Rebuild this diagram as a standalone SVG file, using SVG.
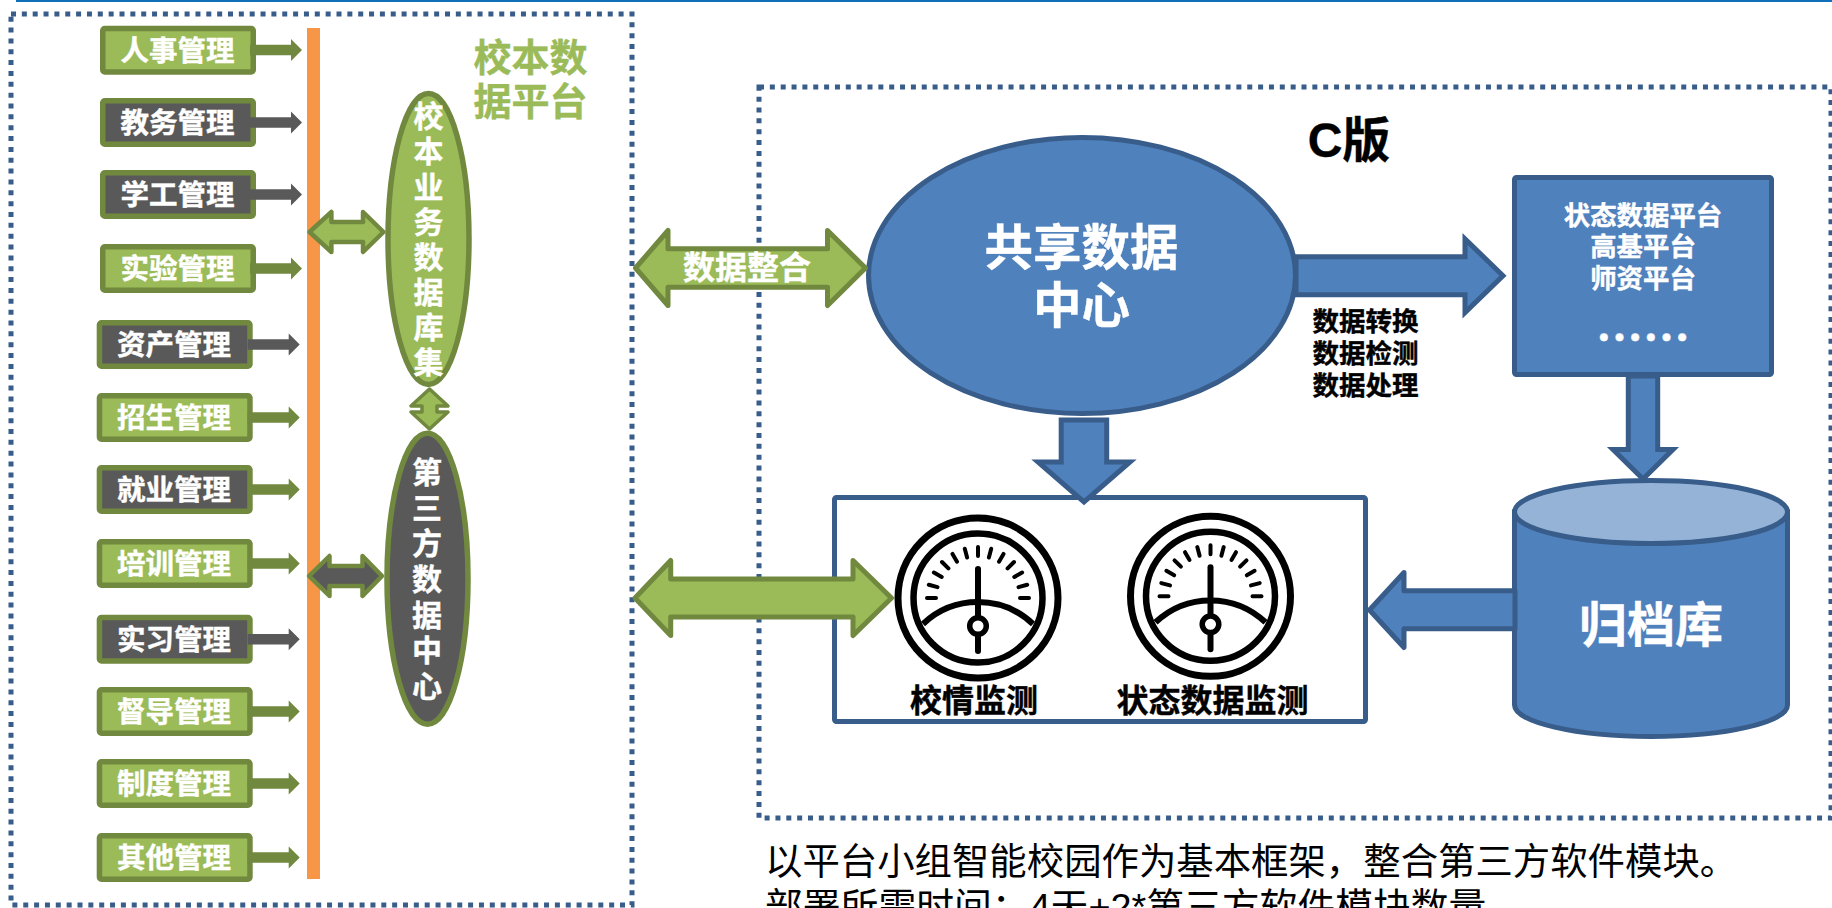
<svg xmlns="http://www.w3.org/2000/svg" xmlns:xlink="http://www.w3.org/1999/xlink" width="1832" height="908" viewBox="0 0 1832 908">
<style>
text{font-family:"Liberation Sans","Noto Sans CJK SC",sans-serif;font-weight:700;text-anchor:middle}
.w{fill:#fff;stroke:#fff;stroke-width:.4}.k{fill:#000;stroke:#000;stroke-width:.4}
.dash{fill:none;stroke:#385d8a;stroke-width:5;stroke-dasharray:5 5.85}
.g{fill:#9bbb59;stroke:#71893f;stroke-width:5.5}
.d{fill:#595959;stroke:#71893f;stroke-width:5.5}
.gs{fill:#71893f}.ds{fill:#595959}
.b{fill:#4f81bd;stroke:#385d8a;stroke-width:5}
.ga{stroke-linejoin:round;stroke-width:5;stroke:#71893f}
.m{font-size:28.500px}.v{font-size:30px}
.r{font-size:26.400px}.l{font-size:26.500px}
.t{font-size:37.400px;font-weight:400;text-anchor:start;fill:#000}
.dots{font-family:"Noto Sans CJK SC",sans-serif;font-size:47px}
</style>
<defs>
<path id="ar" d="M0-5.300H41V-11L52 0 41 11V5.300H0Z"/>
<g id="gauge" fill="none" stroke="#000">
<circle cx="978" cy="598" r="80" stroke-width="7"/>
<circle cx="978" cy="598" r="64.500" stroke-width="6.500"/>
<g stroke-width="4" stroke-linecap="round">
<path d="M927 598h9M928.800 584.800l8.700 2.300M933.900 572.500l7.800 4.500M942 562l6.400 6.400M952.500 553.900l4.500 7.800M964.800 548.800l2.300 8.700M978 547v9M991.200 548.800l-2.300 8.700M1003.500 553.900l-4.500 7.800M1014 562l-6.400 6.400M1022.100 572.500l-7.800 4.500M1027.200 584.800l-8.700 2.300M1029 598h-9"/>
</g>
<path d="M923 624A80 80 0 0 1 1033 624" stroke-width="6"/>
<path d="M978 569V651" stroke-width="6" stroke-linecap="round"/>
<circle cx="978" cy="626" r="8.300" fill="#fff" stroke-width="5.500"/>
</g>
</defs>
<rect x="16" y="0" width="1816" height="2" fill="#0f6fb8"/>
<rect class="dash" x="11" y="14" width="621" height="891"/>
<rect class="dash" x="759" y="87" width="1072" height="731"/>
<rect x="307" y="28" width="13" height="851" fill="#f79646"/>

<g id="n-renshi"><rect class="g" x="102.750" y="28.500" width="150.500" height="43.500" rx="2"/><text class="m w" x="177.500" y="60.500">人事管理</text></g>
<g id="n-jiaowu"><rect class="d" x="102.750" y="100.750" width="150.500" height="43.500" rx="2"/><text class="m w" x="177.500" y="133">教务管理</text></g>
<g id="n-xuegong"><rect class="d" x="102.750" y="172.750" width="150.500" height="43.500" rx="2"/><text class="m w" x="177.500" y="205">学工管理</text></g>
<g id="n-shiyan"><rect class="g" x="102.750" y="246.750" width="150.500" height="43.500" rx="2"/><text class="m w" x="177.500" y="279">实验管理</text></g>
<g id="n-zichan"><rect class="d" x="99.450" y="322.750" width="150.500" height="43.500" rx="2"/><text class="m w" x="174" y="355">资产管理</text></g>
<g id="n-zhaosheng"><rect class="g" x="99.450" y="395.750" width="150.500" height="43.500" rx="2"/><text class="m w" x="174" y="428">招生管理</text></g>
<g id="n-jiuye"><rect class="d" x="99.450" y="467.750" width="150.500" height="43.500" rx="2"/><text class="m w" x="174" y="500">就业管理</text></g>
<g id="n-peixun"><rect class="g" x="99.450" y="541.750" width="150.500" height="43.500" rx="2"/><text class="m w" x="174" y="574">培训管理</text></g>
<g id="n-shixi"><rect class="d" x="99.450" y="617.500" width="150.500" height="43.500" rx="2"/><text class="m w" x="174" y="649.500">实习管理</text></g>
<g id="n-dudao"><rect class="g" x="99.450" y="689.750" width="150.500" height="43.500" rx="2"/><text class="m w" x="174" y="722">督导管理</text></g>
<g id="n-zhidu"><rect class="g" x="99.450" y="761.750" width="150.500" height="43.500" rx="2"/><text class="m w" x="174" y="794">制度管理</text></g>
<g id="n-qita"><rect class="g" x="99.450" y="835.750" width="150.500" height="43.500" rx="2"/><text class="m w" x="174" y="868">其他管理</text></g>

<g id="n-platform-title"><text x="530.500" y="71" font-size="38" fill="#9bbb59" stroke="#9bbb59" stroke-width=".4">校本数</text><text x="530.500" y="115" font-size="38" fill="#9bbb59" stroke="#9bbb59" stroke-width=".4">据平台</text></g>

<g id="n-xiaoben"><ellipse class="g" cx="428.500" cy="239" rx="40.500" ry="145.500"/>
<text class="v w" x="428.500" y="127">校</text><text class="v w" x="428.500" y="162">本</text><text class="v w" x="428.500" y="197.500">业</text><text class="v w" x="428.500" y="232.500">务</text><text class="v w" x="428.500" y="268">数</text><text class="v w" x="428.500" y="303">据</text><text class="v w" x="428.500" y="338">库</text><text class="v w" x="428.500" y="373">集</text></g>
<g id="n-disanfang"><ellipse class="d" cx="427.500" cy="578.700" rx="40.500" ry="145.500"/>
<text class="v w" x="427" y="483">第</text><text class="v w" x="427" y="518.500">三</text><text class="v w" x="427" y="554">方</text><text class="v w" x="427" y="590">数</text><text class="v w" x="427" y="625.500">据</text><text class="v w" x="427" y="661">中</text><text class="v w" x="427" y="696.500">心</text></g>

<g id="n-gongxiang"><ellipse class="b" cx="1082" cy="275.500" rx="213.500" ry="138"/><text class="w" font-size="48.500" x="1081.500" y="264.500">共享数据</text><text class="w" font-size="48.500" x="1081.500" y="322.500">中心</text></g>
<g id="n-version"><text class="k" font-size="48" x="1349" y="157">C版</text></g>
<g id="n-status"><rect class="b" x="1514.500" y="177.500" width="257" height="197" rx="2"/>
<text class="r w" x="1643" y="224.500">状态数据平台</text><text class="r w" x="1643" y="256">高基平台</text><text class="r w" x="1643" y="287.500">师资平台</text><text class="w dots" x="1643" y="355">……</text></g>
<g id="n-ops"><text class="l k" x="1365.500" y="331">数据转换</text><text class="l k" x="1365.500" y="362.500">数据检测</text><text class="l k" x="1365.500" y="394.500">数据处理</text></g>
<g id="n-archive"><path class="b" d="M1514.500 512V705C1514.500 722 1576 736.500 1651 736.500S1787.500 722 1787.500 705V512Z"/><ellipse cx="1651" cy="512" rx="136.500" ry="31.500" fill="#95b3d7" stroke="#385d8a" stroke-width="5"/><text class="w" font-size="48" x="1651" y="642">归档库</text></g>
<g id="n-monitor"><rect x="834.500" y="497.500" width="531" height="224" rx="2" fill="#fff" stroke="#385d8a" stroke-width="5"/>
<use xlink:href="#gauge"/><use xlink:href="#gauge" transform="translate(232.500 -1.700)"/>
<text class="k" font-size="32" x="974" y="712">校情监测</text><text class="k" font-size="32" x="1212.500" y="712">状态数据监测</text></g>

<g id="connectors">
<use xlink:href="#ar" class="gs" x="250" y="50"/>
<use xlink:href="#ar" class="ds" x="250" y="122.500"/>
<use xlink:href="#ar" class="ds" x="250" y="194.500"/>
<use xlink:href="#ar" class="gs" x="250" y="268.500"/>
<use xlink:href="#ar" class="ds" x="247.700" y="344.500"/>
<use xlink:href="#ar" class="gs" x="247.700" y="417.500"/>
<use xlink:href="#ar" class="gs" x="247.700" y="489.500"/>
<use xlink:href="#ar" class="gs" x="247.700" y="563.500"/>
<use xlink:href="#ar" class="ds" x="247.700" y="639.200"/>
<use xlink:href="#ar" class="gs" x="247.700" y="711.500"/>
<use xlink:href="#ar" class="gs" x="247.700" y="783.500"/>
<use xlink:href="#ar" class="gs" x="247.700" y="857.500"/>
<path class="ga" fill="#9bbb59" style="stroke-width:4.500px" d="M309.500 232L331.400 212V222H363V212L383.500 232 363 252V242H331.400V252Z"/>
<path class="ga" fill="#595959" style="stroke-width:4.500px" d="M309 576L329.500 556V566H362.500V556L382 576 362.500 596V586H329.500V596Z"/>
<path class="ga" fill="#9bbb59" style="stroke-width:3.500px" d="M429.500 389L448 406H437V412H448L429.500 429 411 412H422V406H411Z"/>
<path class="ga" fill="#9bbb59" d="M635.500 268L668 230.500V248.700H827.500V230.500L865.500 268 827.500 305.500V287.300H668V305.500Z"/>
<text class="w" font-size="32" x="747" y="279">数据整合</text>
<path class="ga" fill="#9bbb59" d="M635 598L670.700 560.500V579H853V560.500L891.500 598 853 635.500V617H670.700V635.500Z"/>
<path class="b" d="M1296 256.700H1465V239L1503 275.700 1465 312.500V294.700H1296Z"/>
<path class="b" d="M1628.300 376V449.500H1613L1643 479 1673 449.500H1657.700V376Z"/>
<path class="b" d="M1061.200 420V462H1038L1084 502 1130 462H1106.700V420Z"/>
<path class="b" stroke-linejoin="round" d="M1515 590.700H1404V572.500L1369.500 610 1404 647.500V628.700H1515Z"/>
</g>

<g id="n-note"><text class="t" x="765" y="875">以平台小组智能校园作为基本框架&#xFF0C;整合第三方软件模块。</text><text class="t" x="765" y="920" style="font-size:37.800px">部署所需时间&#xFF1A;4天+2*第三方软件模块数量</text></g>
</svg>
